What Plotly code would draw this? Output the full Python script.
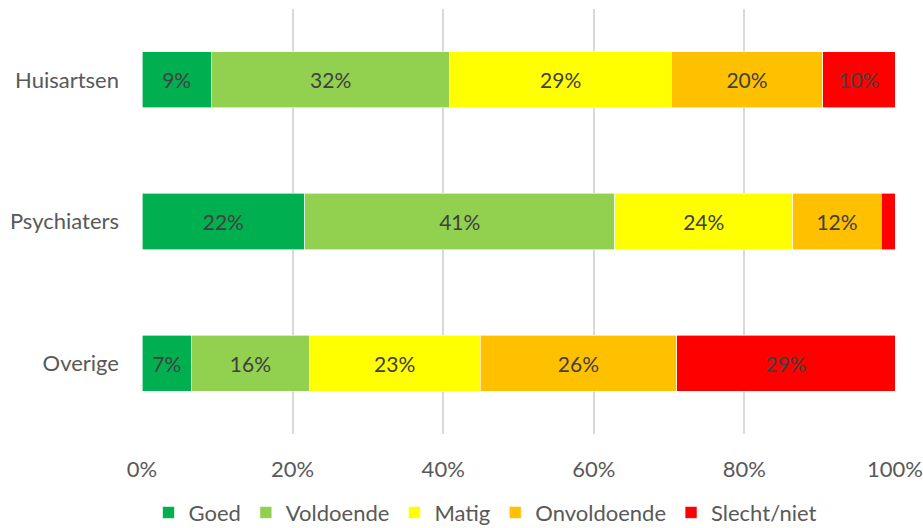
import plotly.graph_objects as go

# Share of responses per group (percent of each row)
groups = ["Huisartsen", "Psychiaters", "Overige"]
series_names = ["Goed", "Voldoende", "Matig", "Onvoldoende", "Slecht/niet"]
goed = [9.2, 21.6, 6.6]
voldoende = [31.7, 41.2, 15.6]
matig = [29.4, 23.6, 22.7]
onvoldoende = [20.1, 11.8, 26.1]
slecht = [9.6, 1.8, 29.0]
x_ticks = [0, 20, 40, 60, 80, 100]
x_tick_labels = ["0%", "20%", "40%", "60%", "80%", "100%"]

colors = ["#00B050", "#92D050", "#FFFF00", "#FFC000", "#FF0000"]
FONT = "Lato"
SIZE = 22

fig = go.Figure()
for name, vals, col in zip(series_names, [goed, voldoende, matig, onvoldoende, slecht], colors):
    labels = [f"{v:.0f}%" if v >= 3 else "" for v in vals]
    fig.add_trace(go.Bar(
        y=groups, x=vals, name=name, orientation="h",
        marker=dict(color=col, line=dict(color="white", width=0.6)),
        text=labels, textposition="inside", insidetextanchor="middle",
        textfont=dict(family=FONT, size=21, color="#404040"),
        hoverinfo="skip",
    ))

fig.update_layout(
    barmode="stack",
    bargap=0.604,
    width=923, height=528,
    margin=dict(l=142, r=28, t=9, b=94, autoexpand=False),
    paper_bgcolor="white", plot_bgcolor="white",
    font=dict(family=FONT, size=SIZE, color="#595959"),
    showlegend=True,
    legend=dict(orientation="h", xref="container", yref="paper",
                x=0.526, xanchor="center", y=-0.185, yanchor="middle",
                font=dict(family=FONT, size=SIZE, color="#595959"),
                traceorder="normal", itemwidth=30),
    uniformtext=dict(mode="show", minsize=10),
)
fig.update_xaxes(
    range=[0, 100], tickvals=x_ticks, ticktext=x_tick_labels,
    showgrid=True, gridcolor="#D9D9D9", gridwidth=1.5,
    zeroline=False, showline=False, ticks="", ticklabelstandoff=20,
    automargin=False,
    tickfont=dict(family=FONT, size=SIZE, color="#595959"),
)
fig.update_yaxes(
    categoryorder="array", categoryarray=groups, autorange="reversed",
    showgrid=False, zeroline=False, showline=False, ticks="", ticklabelstandoff=22,
    automargin=False,
    tickfont=dict(family=FONT, size=SIZE, color="#595959"),
)

fig.write_html("out.html")
